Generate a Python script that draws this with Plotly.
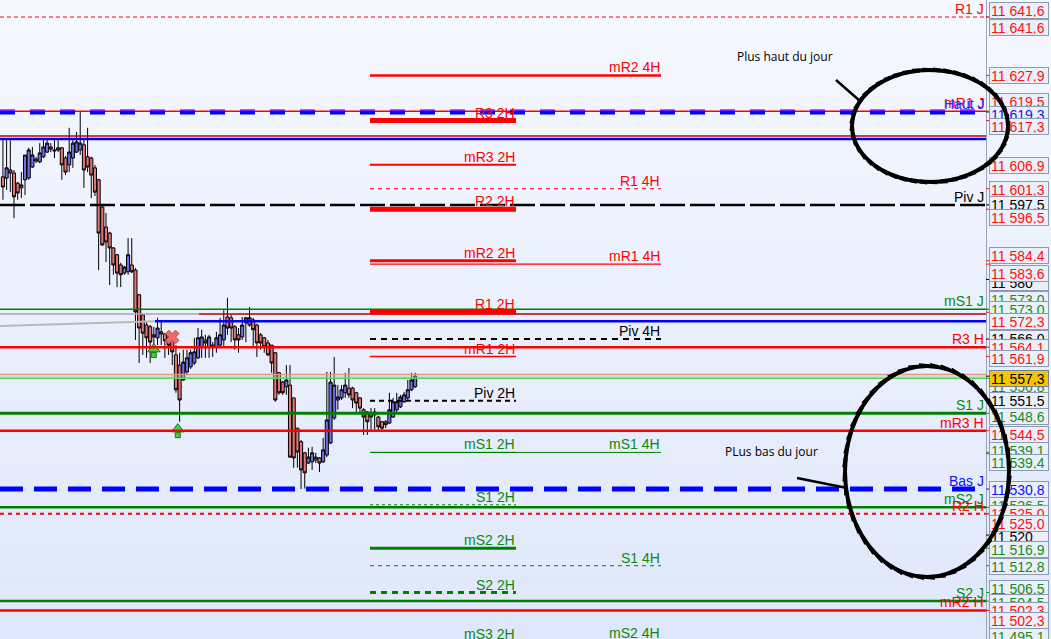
import math
import plotly.graph_objects as go

# ---------------- data ----------------
bar_open = [11604.1, 11603.8, 11605.7, 11605.0, 11602.6, 11601.5, 11603.4, 11603.8, 11606.4, 11608.3,
            11607.6, 11608.8, 11609.9, 11611.1, 11610.4, 11610.9, 11610.9, 11608.5, 11606.9, 11608.5,
            11609.9, 11610.4, 11611.6, 11608.8, 11608.5, 11606.2, 11603.4, 11597.0, 11592.3, 11590.9,
            11587.4, 11585.8, 11583.4, 11581.5, 11581.8, 11583.4, 11582.2, 11576.4, 11571.7, 11569.3,
            11568.9, 11567.0, 11566.3, 11567.7, 11567.2, 11566.5, 11566.3, 11562.3, 11559.9, 11556.4,
            11558.3, 11559.5, 11560.4, 11561.6, 11564.2, 11565.8, 11564.2, 11564.6, 11564.2, 11564.6,
            11565.8, 11571.2, 11571.0, 11568.9, 11567.0, 11566.5, 11569.8, 11569.3, 11570.5, 11569.3,
            11567.0, 11566.3, 11565.1, 11564.6, 11562.8, 11558.1, 11555.9, 11554.8, 11555.2, 11552.2,
            11545.1, 11541.9, 11539.3, 11536.9, 11537.2, 11537.6, 11538.1, 11537.2, 11538.8, 11541.6,
            11547.5, 11551.7, 11552.2, 11553.4, 11554.5, 11554.5, 11553.4, 11552.2, 11549.4, 11548.9,
            11548.7, 11548.2, 11547.7, 11546.6, 11546.6, 11546.3, 11547.7, 11549.4, 11550.1, 11551.3,
            11552.2, 11554.1, 11554.8]
bar_high = [11612.7, 11612.7, 11612.7, 11605.7, 11602.9, 11605.2, 11609.2, 11610.9, 11611.1, 11608.8,
            11612.0, 11612.7, 11612.7, 11612.0, 11612.7, 11612.7, 11611.1, 11609.0, 11615.6, 11613.2,
            11614.6, 11619.3, 11613.2, 11615.6, 11608.8, 11606.9, 11603.6, 11597.5, 11595.6, 11591.2,
            11587.6, 11586.0, 11583.9, 11583.2, 11589.7, 11589.7, 11582.7, 11576.6, 11571.9, 11570.0,
            11569.3, 11568.9, 11571.0, 11570.5, 11567.4, 11567.0, 11566.5, 11564.6, 11562.8, 11563.5,
            11563.5, 11563.5, 11566.3, 11568.6, 11568.2, 11567.0, 11567.0, 11565.3, 11567.7, 11571.0,
            11572.8, 11575.7, 11571.7, 11569.3, 11568.6, 11571.2, 11571.2, 11573.5, 11571.0, 11569.6,
            11567.4, 11566.5, 11565.8, 11564.6, 11563.0, 11558.3, 11556.2, 11559.9, 11559.9, 11552.2,
            11545.1, 11542.3, 11539.5, 11540.5, 11540.7, 11539.3, 11538.3, 11542.8, 11558.3, 11558.3,
            11561.8, 11555.2, 11555.2, 11558.1, 11559.2, 11554.8, 11553.6, 11552.4, 11549.8, 11549.1,
            11549.8, 11549.8, 11548.0, 11546.8, 11547.0, 11553.4, 11552.2, 11553.4, 11552.9, 11553.6,
            11556.4, 11558.1, 11558.1]
bar_low = [11598.7, 11601.0, 11600.5, 11594.4, 11598.7, 11599.1, 11599.8, 11603.4, 11606.2, 11607.3,
           11607.3, 11608.5, 11609.7, 11609.9, 11608.5, 11609.9, 11603.4, 11604.5, 11605.2, 11606.2,
           11609.7, 11609.2, 11601.5, 11605.2, 11599.1, 11599.6, 11582.2, 11587.9, 11584.1, 11578.7,
           11581.1, 11578.2, 11578.2, 11581.1, 11581.1, 11581.5, 11565.8, 11560.4, 11562.3, 11561.6,
           11560.4, 11562.3, 11564.6, 11564.6, 11561.6, 11562.3, 11559.9, 11553.4, 11546.6, 11556.2,
           11557.8, 11559.0, 11559.9, 11561.3, 11561.6, 11561.6, 11561.6, 11561.8, 11562.8, 11563.9,
           11563.9, 11567.0, 11565.3, 11563.5, 11562.8, 11565.8, 11565.3, 11568.9, 11564.2, 11561.8,
           11563.5, 11562.8, 11562.0, 11558.1, 11551.3, 11552.9, 11552.9, 11552.9, 11538.1, 11535.8,
           11535.8, 11530.8, 11530.9, 11536.7, 11535.3, 11536.9, 11534.8, 11536.9, 11538.3, 11541.4,
           11547.0, 11549.4, 11551.7, 11552.2, 11552.2, 11549.8, 11548.9, 11548.9, 11543.5, 11543.5,
           11544.7, 11544.7, 11544.2, 11544.2, 11545.1, 11546.1, 11547.5, 11548.9, 11549.8, 11551.0,
           11551.7, 11553.8, 11554.5]
bar_close = [11601.7, 11606.2, 11605.0, 11599.4, 11600.3, 11602.2, 11609.2, 11610.4, 11609.2, 11607.8,
             11609.7, 11611.1, 11612.0, 11610.6, 11610.2, 11610.4, 11606.9, 11605.2, 11609.9, 11612.0,
             11612.3, 11612.0, 11605.7, 11606.4, 11604.5, 11600.5, 11590.9, 11588.1, 11588.8, 11587.4,
             11583.4, 11581.5, 11581.1, 11582.9, 11585.8, 11581.8, 11572.4, 11568.6, 11567.4, 11566.3,
             11565.3, 11566.5, 11568.6, 11567.2, 11565.6, 11564.6, 11563.0, 11554.1, 11551.7, 11560.6,
             11561.6, 11562.8, 11563.0, 11566.3, 11566.5, 11565.1, 11566.5, 11564.2, 11566.3, 11567.0,
             11569.3, 11568.6, 11568.6, 11565.8, 11565.8, 11569.3, 11571.0, 11571.0, 11568.2, 11565.1,
             11565.1, 11564.2, 11562.3, 11560.4, 11551.7, 11553.4, 11553.4, 11556.4, 11538.3, 11538.1,
             11539.5, 11535.3, 11534.6, 11538.3, 11539.3, 11538.3, 11536.9, 11540.0, 11547.0, 11555.9,
             11555.2, 11552.4, 11554.1, 11555.2, 11552.9, 11551.7, 11551.0, 11549.8, 11547.7, 11546.6,
             11547.7, 11548.9, 11545.4, 11545.1, 11545.9, 11549.4, 11551.3, 11551.3, 11552.4, 11552.9,
             11554.1, 11556.4, 11557.3]
bar_idx = list(range(len(bar_open)))

# daily / hourly pivot levels (full width)
day_names = ["R1 J", "mR1 J", "Haut J", "Piv J", "mS1 J", "R3 H", "S1 J", "mR3 H",
             "Bas J", "mS2 J", "R2 H", "S2 J", "mR2 H"]
day_values = [11641.6, 11619.5, 11619.3, 11597.5, 11573.0, 11564.1, 11548.6, 11544.5,
              11530.8, 11526.5, 11525.0, 11504.5, 11502.3]

# 2H levels
h2_names = ["R3 2H", "mR3 2H", "R2 2H", "mR2 2H", "R1 2H", "mR1 2H", "Piv 2H",
            "mS1 2H", "S1 2H", "mS2 2H", "S2 2H", "mS3 2H"]
h2_values = [11617.3, 11606.9, 11596.5, 11584.4, 11572.3, 11561.9, 11551.5,
             11539.4, 11527.1, 11516.9, 11506.5, 11494.9]

# 4H levels
h4_names = ["mR2 4H", "R1 4H", "mR1 4H", "Piv 4H", "mS1 4H", "S1 4H", "mS2 4H"]
h4_values = [11627.9, 11601.3, 11583.6, 11566.0, 11539.4, 11512.8, 11495.1]

# other unlabeled lines
extra_names = ["prev_red", "prev_blue", "ma_red", "ma_blue"]
extra_values = [11613.7, 11613.0, 11571.9, 11570.2]
ask_price, bid_price = 11557.7, 11556.8

gray_curve_idx = [-0.8, 12.8, 26.4, 41.3]
gray_curve_val = [11569.1, 11569.5, 11569.8, 11570.2]

signal_up_idx = [41, 47.5]
signal_up_val = [11564.6, 11545.8]
signal_x_idx = [46]
signal_x_val = [11566.5]

# right price-axis labels (grid labels first, current price last)
axis_texts = ["11 580", "11 520",
              "11 641,6", "11 641,6", "11 627,9", "11 619,5", "11 619,3", "11 617,3", "11 606,9",
              "11 601,3", "11 597,5", "11 596,5", "11 584,4", "11 583,6", "11 573,0",
              "11 573,0", "11 572,3", "11 566,0", "11 564,1", "11 561,9", "11 556,8",
              "11 551,5", "11 548,6", "11 544,5", "11 539,1", "11 539,4", "11 530,8", "11 526,5",
              "11 525,0", "11 525,0", "11 516,9", "11 512,8", "11 506,5", "11 504,5",
              "11 502,3", "11 502,3", "11 495,1", "11 557,3"]
axis_values = [11580.0, 11520.0,
               11641.6, 11641.6, 11627.9, 11619.5, 11619.3, 11617.3, 11606.9,
               11601.3, 11597.5, 11596.5, 11584.4, 11583.6, 11573.0,
               11573.0, 11572.3, 11566.0, 11564.1, 11561.9, 11556.8,
               11551.5, 11548.6, 11544.5, 11539.1, 11539.4, 11530.8, 11526.5,
               11525.0, 11525.0, 11516.9, 11512.8, 11506.5, 11504.5,
               11502.3, 11502.3, 11495.1, 11557.3]
axis_colors = ["black", "black",
               "red", "red", "red", "red", "blue", "red", "red",
               "red", "black", "red", "red", "red", "green",
               "green", "red", "black", "red", "red", "green",
               "black", "green", "red", "green", "green", "blue", "green",
               "red", "red", "green", "green", "green", "green",
               "red", "red", "green", "cur"]
# vertical displacement of the label boxes (px, + = up) used to avoid overlaps
axis_shift = [-3, -1,
              7, -10, 0, 10, -2, -5.5, -1, -1, 0, -8, 5, -9, 10, 0, -9, 1, 0, -2, -8,
              0, -3, -4, 3, -10, 0, 2, 0, -10, -1, -1, 4, -1, 0, -10, 5, -2]

# ---------------- geometry / styles ----------------
W, H = 1051, 639
PLOT_W = 986
y_min, y_max = 11495.6, 11645.6
x_min, x_max = -0.8, 267.1

RED, GREEN, BLUE, BLACK = "#ff0000", "#008000", "#0000ff", "#000000"
col_map = {"red": "#ff1010", "green": "#1a8a1a", "blue": "#1010ff", "black": "#000000", "cur": "#000000"}

def pfrac(p):
    return (p - y_min) / (y_max - y_min)

def px_x(px):
    return px / PLOT_W

def px_y(py):
    return 1 - py / H

styles = {
    "R1 J": (RED, 1, "4px,3px"), "mR1 J": (RED, 1.5, "solid"), "Haut J": (BLUE, 5, "15px,15px"),
    "Piv J": (BLACK, 2.5, "25px,5px"), "mS1 J": (GREEN, 1.5, "solid"), "R3 H": (RED, 2.5, "solid"),
    "S1 J": (GREEN, 3, "solid"), "mR3 H": (RED, 2.5, "solid"), "Bas J": (BLUE, 5, "23px,11px"),
    "mS2 J": (GREEN, 2.5, "solid"), "R2 H": (RED, 2, "4px,4px"), "S2 J": (GREEN, 2.5, "solid"),
    "mR2 H": (RED, 2.5, "solid"),
    "R3 2H": (RED, 5, "solid"), "mR3 2H": (RED, 2, "solid"), "R2 2H": (RED, 5, "solid"),
    "mR2 2H": (RED, 3, "solid"), "R1 2H": (RED, 4.5, "solid"), "mR1 2H": (RED, 1.5, "solid"),
    "Piv 2H": (BLACK, 2, "5px,4px"), "mS1 2H": (GREEN, 1, "solid"), "S1 2H": (GREEN, 1, "3px,3px"),
    "mS2 2H": (GREEN, 3, "solid"), "S2 2H": (GREEN, 3, "6px,5px"), "mS3 2H": (GREEN, 3, "solid"),
    "mR2 4H": (RED, 2.5, "solid"), "R1 4H": (RED, 1, "4px,4px"), "mR1 4H": (RED, 1.2, "solid"),
    "Piv 4H": (BLACK, 2, "6px,5px"), "mS1 4H": (GREEN, 1, "solid"), "S1 4H": (GREEN, 1, "4px,4px"),
    "mS2 4H": (GREEN, 1, "solid"),
}
label_colors = {"Haut J": "#2a2aff", "Bas J": "#1010ff", "Piv J": BLACK, "Piv 2H": BLACK, "Piv 4H": BLACK}

def label_color(name):
    if name in label_colors:
        return label_colors[name]
    return RED if ("R" in name) else "#0a8a0a"

shapes = []
annotations = []

# background gradient
top_c = (245, 248, 255)
bot_c = (223, 231, 250)
N = 48
for i in range(N):
    t = i / (N - 1)
    c = tuple(int(round(top_c[k] + (bot_c[k] - top_c[k]) * t)) for k in range(3))
    shapes.append(dict(type="rect", xref="paper", yref="paper", x0=0, x1=W / PLOT_W,
                       y0=1 - (i + 1) / N, y1=1 - i / N, line=dict(width=0),
                       fillcolor="rgb(%d,%d,%d)" % c, layer="below"))

def hline(price, x0px, x1px, color, width, dash):
    shapes.append(dict(type="line", xref="paper", yref="y", x0=px_x(x0px), x1=px_x(x1px),
                       y0=price, y1=price, line=dict(color=color, width=width, dash=dash),
                       layer="above"))

# extra lines
ev = dict(zip(extra_names, extra_values))
hline(ev["prev_red"], 0, PLOT_W, "#c00000", 1.5, "solid")
hline(ev["prev_blue"], 0, PLOT_W, BLUE, 2.5, "solid")
hline(ev["ma_red"], 0, 199, "#a9a9a9", 1.5, "solid")
hline(ev["ma_red"], 199, PLOT_W, "#b00000", 1.5, "solid")
hline(ev["ma_blue"], 155, PLOT_W, BLUE, 2.5, "solid")

# bid / ask band
shapes.append(dict(type="rect", xref="paper", yref="y", x0=0, x1=1, y0=bid_price, y1=ask_price,
                   fillcolor="rgba(140,225,140,0.45)", line=dict(width=0), layer="above"))
hline(ask_price, 0, PLOT_W, "#e59090", 1.2, "solid")
hline(bid_price, 0, PLOT_W, "#5fd35f", 1.5, "solid")

# daily lines
px_per_unit = H / (y_max - y_min)
for name, val in zip(day_names, day_values):
    c, w, d = styles[name]
    hline(val, 0, PLOT_W, c, w, d)
    if name == "Haut J":
        hline(val + 2.2 / px_per_unit, 0, PLOT_W, "#ff30ff", 1.2, d)

for name, val in zip(h2_names, h2_values):
    c, w, d = styles[name]
    hline(val, 370, 516, c, w, d)
for name, val in zip(h4_names, h4_values):
    c, w, d = styles[name]
    hline(val, 370, 661, c, w, d)

# line labels
LFONT = "Liberation Sans, Arial, sans-serif"
def line_label(name, val, right_px):
    annotations.append(dict(text=name, xref="paper", yref="paper", x=px_x(right_px), y=pfrac(val),
                            xanchor="right", yanchor="bottom", showarrow=False, yshift=-2,
                            font=dict(family=LFONT, size=14, color=label_color(name))))

for name, val in zip(day_names, day_values):
    line_label(name, val, 986)
for name, val in zip(h2_names, h2_values):
    line_label(name, val, 517)
for name, val in zip(h4_names, h4_values):
    line_label(name, val, 662)

# axis ticks and label boxes
for txt, val, c, sh in zip(axis_texts, axis_values, axis_colors, axis_shift):
    color = col_map[c]
    shapes.append(dict(type="line", xref="paper", yref="paper", x0=1, x1=1 + 5 / PLOT_W,
                       y0=pfrac(val), y1=pfrac(val), line=dict(color=color, width=1)))
    annotations.append(dict(text=txt, xref="paper", yref="paper", x=1, y=pfrac(val),
                            xanchor="left", yanchor="middle", xshift=3, yshift=sh,
                            showarrow=False, align="left", width=56, height=13,
                            bgcolor="#f7c400" if c == "cur" else "#eaf0f9",
                            bordercolor="#6f7f99" if c == "cur" else "#8d9bb2",
                            borderwidth=1, borderpad=1,
                            font=dict(family=LFONT, size=14, color=color)))

# hand-drawn ellipses (chained annotation strokes so they sit on top of the axis boxes)
def ellipse_strokes(cx, cy, rx, ry, n=48, width=4):
    pts = [(cx + rx * math.cos(2 * math.pi * k / n), cy + ry * math.sin(2 * math.pi * k / n))
           for k in range(n + 1)]
    for (xa, ya), (xb, yb) in zip(pts[:-1], pts[1:]):
        # extend each stroke backwards so consecutive strokes overlap (no gaps)
        dx, dy = xa - xb, ya - yb
        annotations.append(dict(text=" ", font=dict(size=1), borderpad=0,
                                xref="paper", yref="paper", x=px_x(xb), y=px_y(yb),
                                ax=dx * 1.8, ay=dy * 1.8, axref="pixel", ayref="pixel",
                                showarrow=True, arrowhead=0, arrowwidth=width,
                                arrowcolor="black", standoff=0, startstandoff=0))

ellipse_strokes(930, 126, 78, 56)
ellipse_strokes(927, 471.5, 82, 105.5)

shapes.append(dict(type="line", xref="paper", yref="paper", x0=px_x(836), x1=px_x(860),
                   y0=px_y(80), y1=px_y(101), line=dict(color="black", width=2.5), layer="above"))
shapes.append(dict(type="line", xref="paper", yref="paper", x0=px_x(797), x1=px_x(847),
                   y0=px_y(478), y1=px_y(488), line=dict(color="black", width=2.5), layer="above"))
annotations.append(dict(text="Plus haut du jour", xref="paper", yref="paper", x=px_x(785), y=px_y(56),
                        xanchor="center", yanchor="middle", showarrow=False,
                        font=dict(family="Open Sans, sans-serif", size=12, color="black")))
annotations.append(dict(text="PLus bas du jour", xref="paper", yref="paper", x=px_x(771), y=px_y(451),
                        xanchor="center", yanchor="middle", showarrow=False,
                        font=dict(family="Open Sans, sans-serif", size=12, color="black")))

# ---------------- traces ----------------
fig = go.Figure()
fig.add_trace(go.Scatter(x=gray_curve_idx, y=gray_curve_val, mode="lines",
                         line=dict(color="#b8b8b8", width=2), hoverinfo="skip", showlegend=False))
fig.add_trace(go.Candlestick(
    x=bar_idx, open=bar_open, high=bar_high, low=bar_low, close=bar_close,
    increasing=dict(line=dict(color="black", width=1), fillcolor="#6f6fe6"),
    decreasing=dict(line=dict(color="black", width=1), fillcolor="#e27676"),
    whiskerwidth=0, showlegend=False, hoverinfo="skip"))
# signal arrows: head + stem
head_off = 4 / px_per_unit
stem_off = 10 / px_per_unit
fig.add_trace(go.Scatter(x=signal_up_idx, y=[v - stem_off for v in signal_up_val], mode="markers",
                         marker=dict(symbol="square", size=5, color="#3fd03f",
                                     line=dict(color="#1a7a1a", width=1)),
                         cliponaxis=False, hoverinfo="skip", showlegend=False))
fig.add_trace(go.Scatter(x=signal_up_idx, y=[v - head_off for v in signal_up_val], mode="markers",
                         marker=dict(symbol="triangle-up", size=11, color="#3fd03f",
                                     line=dict(color="#1a7a1a", width=1)),
                         cliponaxis=False, hoverinfo="skip", showlegend=False))
fig.add_trace(go.Scatter(x=signal_x_idx, y=signal_x_val, mode="markers",
                         marker=dict(symbol="x", size=12, color="#ec6a6a",
                                     line=dict(color="#c84a4a", width=1)),
                         cliponaxis=False, hoverinfo="skip", showlegend=False))

fig.update_layout(
    width=W, height=H,
    margin=dict(l=0, r=W - PLOT_W, t=0, b=0),
    paper_bgcolor="#e9eefa", plot_bgcolor="rgba(0,0,0,0)",
    boxgap=0.08, boxgroupgap=0.08,
    xaxis=dict(range=[x_min, x_max], visible=False, rangeslider=dict(visible=False), fixedrange=True),
    yaxis=dict(range=[y_min, y_max], side="right", showgrid=False, zeroline=False,
               showticklabels=False, ticks="", showline=True, linecolor="#9aa6b8", linewidth=1,
               fixedrange=True),
    shapes=shapes, annotations=annotations, showlegend=False,
)

fig.write_html("out.html", config={"displayModeBar": False},
               post_script="document.body.style.margin='0px';document.body.style.overflow='hidden';")
